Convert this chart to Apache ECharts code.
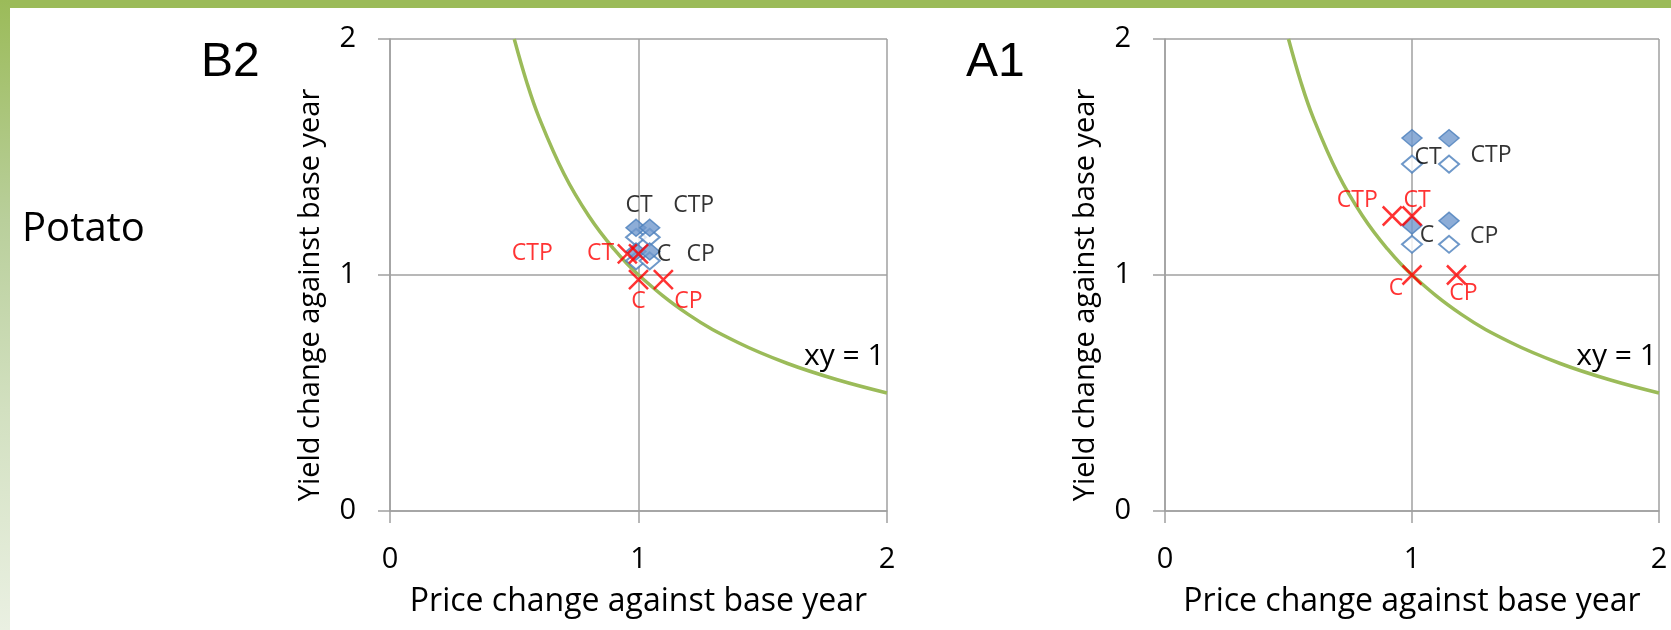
<!DOCTYPE html>
<html>

<head>
    <meta charset="utf-8" />
    <script src="https://cdn.jsdelivr.net/npm/echarts@6/dist/echarts.min.js"></script>
</head>

<body>
    <style>
        html,
        body {
            margin: 0;
            padding: 0;
        }

        #main {
            width: 1671px;
            height: 630px;
        }
    </style>
    <div id="main"></div>

    <script type="text/javascript">
        // scenario order used by every point list: C, CP, CT, CTP
        const scenarios = ['C', 'CP', 'CT', 'CTP'];
        const axisTicks = [0, 1, 2];

        // the xy = 1 reference curve
        const curveX = [0.5, 0.55, 0.6, 0.7, 0.8, 0.9, 1, 1.2, 1.4, 1.6, 1.8, 2];
        const curveY = [2, 1.818, 1.667, 1.429, 1.25, 1.111, 1, 0.833, 0.714, 0.625, 0.556, 0.5];

        // B2 panel, [price change, yield change]
        const b2Filled = [[0.99, 1.10], [1.045, 1.10], [0.99, 1.20], [1.045, 1.20]];
        const b2Open = [[0.99, 1.06], [1.045, 1.06], [0.99, 1.16], [1.045, 1.16]];
        const b2Cross = [[1.0, 0.98], [1.10, 0.98], [1.0, 1.09], [0.955, 1.09]];

        // A1 panel
        const a1Filled = [[1.0, 1.21], [1.15, 1.23], [1.0, 1.58], [1.15, 1.58]];
        const a1Open = [[1.0, 1.13], [1.15, 1.13], [1.0, 1.47], [1.15, 1.47]];
        const a1Cross = [[1.0, 1.0], [1.18, 1.0], [1.0, 1.25], [0.92, 1.25]];

        const FONT = 'Open Sans';
        const GRID_COLOR = '#a0a0a0';
        const GREEN = '#9bbb59';
        const BLUE = '#4a7ebb';

        var chart = echarts.init(document.getElementById('main'), null, { renderer: 'canvas' });

        function makeAxis(gridIndex, isY) {
            return {
                type: 'value',
                gridIndex: gridIndex,
                min: axisTicks[0],
                max: axisTicks[axisTicks.length - 1],
                interval: 1,
                name: isY ? 'Yield change against base year' : 'Price change against base year',
                nameLocation: 'middle',
                nameGap: isY ? 65 : 75,
                nameTextStyle: {
                    fontFamily: FONT,
                    fontSize: isY ? 29 : 32,
                    color: '#000',
                    // pushes the rotated name a little towards the bottom, like the original
                    padding: isY ? [0, 40, 0, 0] : 0,
                },
                axisLine: { show: true, lineStyle: { color: GRID_COLOR, width: 1.5 } },
                axisTick: { show: true, inside: false, length: 12, lineStyle: { color: GRID_COLOR, width: 1.5 } },
                axisLabel: {
                    fontFamily: FONT,
                    fontSize: 29,
                    color: '#000',
                    margin: 34,
                },
                splitLine: { show: true, lineStyle: { color: GRID_COLOR, width: 1.5 } },
            };
        }

        function labelled(points, offsets, color) {
            return points.map(function (p, i) {
                return {
                    value: p,
                    label: {
                        show: true,
                        formatter: scenarios[i],
                        position: 'inside',
                        offset: offsets[i],
                        color: color,
                        fontFamily: FONT,
                        fontSize: 23,
                    }
                };
            });
        }

        function panelSeries(idx, filled, open, cross, blackOff, redOff, xyOff) {
            return [
                {
                    type: 'line',
                    xAxisIndex: idx,
                    yAxisIndex: idx,
                    data: curveX.map(function (x, i) {
                        var item = { value: [x, curveY[i]] };
                        if (i === 10) {
                            item.label = {
                                show: true,
                                formatter: 'xy = 1',
                                position: 'inside',
                                offset: xyOff,
                                color: '#000',
                                fontFamily: FONT,
                                fontSize: 30,
                            };
                        }
                        return item;
                    }),
                    smooth: 0.4,
                    showSymbol: true,
                    symbol: 'circle',
                    symbolSize: 0,
                    lineStyle: { color: GREEN, width: 3.5 },
                    itemStyle: { color: GREEN },
                    z: 1,
                    silent: true,
                },
                {
                    type: 'scatter',
                    xAxisIndex: idx,
                    yAxisIndex: idx,
                    data: open,
                    symbol: 'diamond',
                    symbolSize: [20, 17],
                    itemStyle: { color: '#fff', borderColor: BLUE, borderWidth: 2 },
                    z: 3,
                },
                {
                    type: 'scatter',
                    xAxisIndex: idx,
                    yAxisIndex: idx,
                    data: labelled(filled, blackOff, '#000'),
                    symbol: 'diamond',
                    symbolSize: [20, 17],
                    itemStyle: { color: '#7199cd', borderColor: BLUE, borderWidth: 1.5 },
                    z: 4,
                },
                {
                    type: 'scatter',
                    xAxisIndex: idx,
                    yAxisIndex: idx,
                    data: labelled(cross, redOff, '#ff0000'),
                    symbol: 'path://M0,0L10,10M0,10L10,0',
                    symbolSize: 19,
                    itemStyle: { color: 'transparent', borderColor: '#ff0000', borderWidth: 2.5 },
                    z: 5,
                },
            ];
        }

        chart.setOption({
            animation: false,
            backgroundColor: '#fff',
            textStyle: { fontFamily: FONT },
            title: [
                { text: 'B2', left: 201, top: 39, padding: 0, textStyle: { fontFamily: 'Liberation Sans', fontSize: 48, fontWeight: 'normal', color: '#000' } },
                { text: 'A1', left: 966, top: 39, padding: 0, textStyle: { fontFamily: 'Liberation Sans', fontSize: 48, fontWeight: 'normal', color: '#000' } },
                { text: 'Potato', left: 22, top: 210, padding: 0, textStyle: { fontFamily: FONT, fontSize: 40, fontWeight: 'normal', color: '#000' } },
            ],
            graphic: [
                {
                    type: 'rect',
                    shape: { x: 0, y: 0, width: 1671, height: 8 },
                    style: { fill: GREEN },
                    silent: true,
                },
                {
                    type: 'rect',
                    shape: { x: 0, y: 0, width: 10, height: 630 },
                    style: {
                        fill: new echarts.graphic.LinearGradient(0, 0, 0, 1, [
                            { offset: 0, color: GREEN },
                            { offset: 0.35, color: '#b9cf9b' },
                            { offset: 0.65, color: '#d2e0c0' },
                            { offset: 1, color: '#eaf0e2' },
                        ]),
                    },
                    silent: true,
                },
            ],
            grid: [
                { left: 390, top: 39, width: 497, height: 472 },
                { left: 1165, top: 39, width: 494, height: 472 },
            ],
            xAxis: [makeAxis(0, false), makeAxis(1, false)],
            yAxis: [makeAxis(0, true), makeAxis(1, true)],
            series: [].concat(
                panelSeries(0, b2Filled, b2Open, b2Cross,
                    [[28, 3], [51, 3], [3, -22], [44, -22]],
                    [[0, 22], [25, 22], [-38, 0], [-95, 0]],
                    [7, -23]),
                panelSeries(1, a1Filled, a1Open, a1Cross,
                    [[15, 10], [35, 16], [16, 19], [42, 17]],
                    [[-16, 13], [7, 18], [5, -16], [-35, -16]],
                    [7, -23])
            ),
        });
    </script>
</body>

</html>
